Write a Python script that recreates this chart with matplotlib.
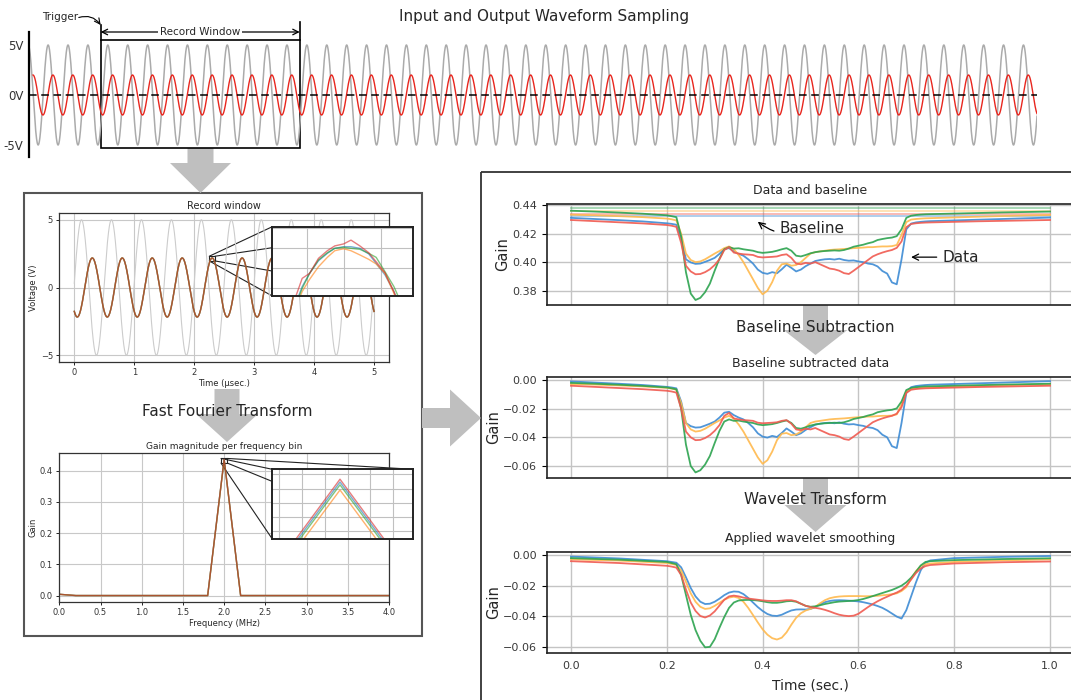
import numpy as np
import matplotlib
matplotlib.use('Agg')
import matplotlib.pyplot as plt
from matplotlib.patches import Rectangle, Polygon, ConnectionPatch
from matplotlib.ticker import MultipleLocator

W, H = 1071, 700

# ---------------- data ----------------
FREQ_MHZ = 2.0
INPUT_AMP = 5.0
OUTPUT_AMP_TOP = 2.0
OUTPUT_AMP_REC = 2.18
INPUT_PEAK_TOP = 0.18      # time of an input peak (usec)
INPUT_PEAK_REC = 0.12
OUTPUT_PEAK = 0.30
TOP_SPAN = (-1.8, 23.52)
OUTPUT_START_TOP = -1.70
RECORD_WINDOW = (0.0, 5.0)

SERIES = ['blue', 'orange', 'green', 'red']
TAB = {'blue': '#1f77b4', 'orange': '#ff7f0e', 'green': '#2ca02c', 'red': '#d62728'}
LIGHT = {'blue': '#3d8bd4', 'orange': '#ffb94d', 'green': '#2ca34f', 'red': '#f05a50'}

# readings of the zoomed peak in the record window
ZOOM_T = [2.266, 2.272, 2.277, 2.283, 2.289, 2.294, 2.300, 2.305, 2.311, 2.317, 2.322, 2.328, 2.334, 2.339]
ZOOM_V = {
    'blue':   [1.892, 2.009, 2.075, 2.138, 2.175, 2.200, 2.208, 2.208, 2.200, 2.172, 2.125, 2.067, 1.984, 1.884],
    'orange': [1.876, 1.984, 2.045, 2.108, 2.155, 2.188, 2.198, 2.188, 2.167, 2.145, 2.122, 2.075, 1.975, 1.876],
    'green':  [1.884, 2.000, 2.075, 2.142, 2.178, 2.200, 2.205, 2.200, 2.195, 2.175, 2.155, 2.083, 2.009, 1.925],
    'red':    [1.925, 2.050, 2.075, 2.150, 2.188, 2.212, 2.222, 2.241, 2.212, 2.178, 2.133, 2.078, 1.984, 1.892],
}
REC_ZOOM = (2.2518, 2.3471, 1.962, 2.308)

FFT_FREQ = [0.0, 0.2, 0.4, 0.6, 0.8, 1.0, 1.2, 1.4, 1.6, 1.8, 2.0,
            2.2, 2.4, 2.6, 2.8, 3.0, 3.2, 3.4, 3.6, 3.8, 4.0]
FFT_DC = 0.004
FFT_PEAK = {'blue': 0.4364, 'orange': 0.4347, 'green': 0.4358, 'red': 0.4370}
FFT_RECT = (1.962, 2.040, 0.4245, 0.4395)
FFT_ZOOM = (1.99107, 2.00967, 0.4243, 0.4391)

# gain vs time (sec.)
T_RAW = [0.00, 0.05, 0.10, 0.15, 0.20,
         0.21, 0.22, 0.23, 0.24, 0.25, 0.26, 0.27, 0.28, 0.29, 0.30,
         0.31, 0.32, 0.33, 0.34, 0.35, 0.36, 0.37, 0.38, 0.39, 0.40,
         0.41, 0.42, 0.43, 0.44, 0.45, 0.46, 0.47, 0.48, 0.49, 0.50,
         0.51, 0.52, 0.53, 0.54, 0.55, 0.56, 0.57, 0.58, 0.59, 0.60,
         0.61, 0.62, 0.63, 0.64, 0.65, 0.66, 0.67, 0.68, 0.69, 0.70,
         0.71, 0.72, 0.73, 0.74,
         0.75, 0.80, 0.85, 0.90, 0.95, 1.00]

BASELINE = {'blue': 0.4320, 'orange': 0.4360, 'green': 0.4380, 'red': 0.4335}

SUBTRACTED = {
    'blue': [-0.0010, -0.0018, -0.0026, -0.0035, -0.0048,
             -0.0052, -0.0058, -0.0150, -0.0300, -0.0322, -0.0332, -0.0330, -0.0318, -0.0305, -0.0290,
             -0.0262, -0.0228, -0.0222, -0.0245, -0.0262, -0.0275, -0.0300, -0.0330, -0.0372, -0.0395,
             -0.0402, -0.0390, -0.0398, -0.0370, -0.0338, -0.0360, -0.0385, -0.0372, -0.0348, -0.0330,
             -0.0312, -0.0305, -0.0300, -0.0298, -0.0302, -0.0296, -0.0305, -0.0310, -0.0308, -0.0315,
             -0.0320, -0.0330, -0.0335, -0.0350, -0.0382, -0.0400, -0.0462, -0.0475, -0.0300, -0.0090,
             -0.0050, -0.0042, -0.0038, -0.0035,
             -0.0033, -0.0028, -0.0023, -0.0018, -0.0013, -0.0008],
    'orange': [-0.0028, -0.0032, -0.0038, -0.0045, -0.0055,
               -0.0060, -0.0068, -0.0160, -0.0300, -0.0345, -0.0360, -0.0355, -0.0340, -0.0320, -0.0300,
               -0.0282, -0.0262, -0.0250, -0.0270, -0.0310, -0.0360, -0.0420, -0.0480, -0.0540, -0.0585,
               -0.0560, -0.0500, -0.0420, -0.0375, -0.0370, -0.0385, -0.0380, -0.0360, -0.0330, -0.0300,
               -0.0290, -0.0285, -0.0280, -0.0275, -0.0272, -0.0270, -0.0268, -0.0265, -0.0262, -0.0260,
               -0.0258, -0.0255, -0.0255, -0.0252, -0.0250, -0.0250, -0.0248, -0.0240, -0.0170, -0.0080,
               -0.0062, -0.0058, -0.0055, -0.0053,
               -0.0052, -0.0047, -0.0042, -0.0037, -0.0033, -0.0030],
    'green': [-0.0020, -0.0026, -0.0033, -0.0041, -0.0052,
              -0.0058, -0.0065, -0.0200, -0.0450, -0.0600, -0.0645, -0.0630, -0.0590, -0.0530, -0.0440,
              -0.0355, -0.0290, -0.0275, -0.0285, -0.0283, -0.0290, -0.0295, -0.0300, -0.0310, -0.0315,
              -0.0312, -0.0308, -0.0300, -0.0290, -0.0282, -0.0300, -0.0335, -0.0340, -0.0330, -0.0318,
              -0.0310, -0.0305, -0.0302, -0.0300, -0.0298, -0.0300, -0.0295, -0.0285, -0.0272, -0.0265,
              -0.0258, -0.0248, -0.0240, -0.0225, -0.0218, -0.0212, -0.0208, -0.0198, -0.0150, -0.0070,
              -0.0055, -0.0050, -0.0047, -0.0045,
              -0.0044, -0.0040, -0.0036, -0.0032, -0.0029, -0.0026],
    'red': [-0.0040, -0.0048, -0.0056, -0.0064, -0.0075,
            -0.0080, -0.0088, -0.0200, -0.0360, -0.0400, -0.0420, -0.0418, -0.0405, -0.0385, -0.0355,
            -0.0315, -0.0250, -0.0230, -0.0268, -0.0275, -0.0280, -0.0282, -0.0285, -0.0298, -0.0302,
            -0.0300, -0.0298, -0.0295, -0.0285, -0.0280, -0.0305, -0.0345, -0.0350, -0.0340, -0.0345,
            -0.0335, -0.0350, -0.0365, -0.0380, -0.0385, -0.0395, -0.0412, -0.0418, -0.0395, -0.0370,
            -0.0345, -0.0320, -0.0295, -0.0280, -0.0268, -0.0258, -0.0250, -0.0235, -0.0190, -0.0090,
            -0.0068, -0.0063, -0.0060, -0.0058,
            -0.0057, -0.0053, -0.0049, -0.0046, -0.0043, -0.0040],
}

T_SMOOTH = [0.00, 0.10, 0.20,
            0.21, 0.22, 0.23, 0.24, 0.25, 0.26, 0.27, 0.28, 0.29, 0.30,
            0.31, 0.32, 0.33, 0.34, 0.35, 0.36, 0.37, 0.38, 0.39, 0.40,
            0.41, 0.42, 0.43, 0.44, 0.45, 0.46, 0.47, 0.48, 0.49, 0.50,
            0.51, 0.52, 0.53, 0.54, 0.55, 0.56, 0.57, 0.58, 0.59, 0.60,
            0.61, 0.62, 0.63, 0.64, 0.65, 0.66, 0.67, 0.68, 0.69, 0.70,
            0.71, 0.72, 0.73, 0.74, 0.75,
            0.80, 0.90, 1.00]

SMOOTHED = {
    'blue': [-0.0010, -0.0022, -0.0040,
             -0.0045, -0.0050, -0.0080, -0.0145, -0.0215, -0.0270, -0.0305, -0.0320, -0.0318, -0.0305,
             -0.0285, -0.0262, -0.0245, -0.0238, -0.0240, -0.0255, -0.0280, -0.0310, -0.0340, -0.0365,
             -0.0385, -0.0396, -0.0398, -0.0390, -0.0375, -0.0362, -0.0356, -0.0355, -0.0356, -0.0352,
             -0.0340, -0.0322, -0.0308, -0.0300, -0.0296, -0.0295, -0.0296, -0.0298, -0.0300, -0.0303,
             -0.0308, -0.0315, -0.0323, -0.0333, -0.0345, -0.0362, -0.0382, -0.0402, -0.0415, -0.0360,
             -0.0270, -0.0180, -0.0100, -0.0050, -0.0035,
             -0.0020, -0.0012, -0.0006],
    'orange': [-0.0028, -0.0036, -0.0052,
               -0.0058, -0.0065, -0.0100, -0.0175, -0.0250, -0.0305, -0.0338, -0.0352, -0.0348, -0.0332,
               -0.0312, -0.0292, -0.0278, -0.0272, -0.0280, -0.0305, -0.0345, -0.0392, -0.0440, -0.0485,
               -0.0520, -0.0543, -0.0552, -0.0540, -0.0505, -0.0455, -0.0410, -0.0380, -0.0362, -0.0352,
               -0.0338, -0.0315, -0.0295, -0.0282, -0.0275, -0.0271, -0.0269, -0.0268, -0.0268, -0.0268,
               -0.0269, -0.0269, -0.0268, -0.0266, -0.0263, -0.0260, -0.0256, -0.0250, -0.0235, -0.0210,
               -0.0155, -0.0105, -0.0072, -0.0060, -0.0055,
               -0.0045, -0.0035, -0.0028],
    'green': [-0.0020, -0.0030, -0.0045,
              -0.0052, -0.0060, -0.0130, -0.0260, -0.0390, -0.0490, -0.0560, -0.0603, -0.0600, -0.0550,
              -0.0475, -0.0405, -0.0345, -0.0310, -0.0297, -0.0294, -0.0293, -0.0294, -0.0297, -0.0302,
              -0.0308, -0.0312, -0.0312, -0.0308, -0.0302, -0.0300, -0.0305, -0.0318, -0.0332, -0.0338,
              -0.0335, -0.0328, -0.0320, -0.0314, -0.0308, -0.0304, -0.0302, -0.0300, -0.0298, -0.0294,
              -0.0287, -0.0278, -0.0268, -0.0258, -0.0248, -0.0238, -0.0228, -0.0215, -0.0200, -0.0178,
              -0.0148, -0.0110, -0.0068, -0.0045, -0.0040,
              -0.0033, -0.0026, -0.0021],
    'red': [-0.0040, -0.0052, -0.0070,
            -0.0075, -0.0082, -0.0130, -0.0225, -0.0310, -0.0365, -0.0398, -0.0408, -0.0395, -0.0368,
            -0.0330, -0.0292, -0.0270, -0.0265, -0.0270, -0.0278, -0.0284, -0.0288, -0.0292, -0.0296,
            -0.0299, -0.0300, -0.0300, -0.0298, -0.0295, -0.0295, -0.0302, -0.0318, -0.0332, -0.0340,
            -0.0345, -0.0350, -0.0358, -0.0368, -0.0380, -0.0390, -0.0396, -0.0399, -0.0396, -0.0384,
            -0.0362, -0.0340, -0.0320, -0.0302, -0.0286, -0.0272, -0.0258, -0.0245, -0.0228, -0.0200,
            -0.0160, -0.0118, -0.0088, -0.0072, -0.0065,
            -0.0055, -0.0047, -0.0042],
}

# ---------------- figure ----------------
fig = plt.figure(figsize=(W / 100, H / 100), dpi=100)


def px_axes(x0, y0, x1, y1, **kw):
    return fig.add_axes([x0 / W, 1 - y1 / H, (x1 - x0) / W, (y1 - y0) / H], **kw)


ov = px_axes(0, 0, W, H, zorder=-1)
ov.set_xlim(0, W)
ov.set_ylim(H, 0)
ov.axis('off')

ARROW_C = '#bfbfbf'


def down_arrow(cx, y0, yh, ytip, sw, hw):
    pts = [(cx - sw / 2, y0), (cx + sw / 2, y0), (cx + sw / 2, yh), (cx + hw / 2, yh),
           (cx, ytip), (cx - hw / 2, yh), (cx - sw / 2, yh)]
    ov.add_patch(Polygon(pts, closed=True, fc=ARROW_C, ec='none'))


def right_arrow(cy, x0, xh, xtip, sw, hw):
    pts = [(x0, cy - sw / 2), (xh, cy - sw / 2), (xh, cy - hw / 2), (xtip, cy),
           (xh, cy + hw / 2), (xh, cy + sw / 2), (x0, cy + sw / 2)]
    ov.add_patch(Polygon(pts, closed=True, fc=ARROW_C, ec='none'))


ov.add_patch(Rectangle((24, 193), 398, 443, fill=False, ec='#555555', lw=1.5))
ov.add_patch(Rectangle((481, 172), 700, 600, fill=False, ec='#333333', lw=1.3))
down_arrow(200.5, 148, 163, 193, 26, 61)
down_arrow(227, 389, 414, 442, 25, 62)
down_arrow(815.5, 305, 330, 355, 25, 64)
down_arrow(815.5, 478, 505, 532, 25, 62)
right_arrow(418, 422, 450, 481, 20, 57)

TXT = '#262626'
ov.text(544, 17, 'Input and Output Waveform Sampling', ha='center', va='center', fontsize=11, color=TXT)
ov.text(227, 411, 'Fast Fourier Transform', ha='center', va='center', fontsize=11, color=TXT, zorder=5)
ov.text(815, 328, 'Baseline Subtraction', ha='center', va='center', fontsize=11, color=TXT, zorder=5)
ov.text(815, 500, 'Wavelet Transform', ha='center', va='center', fontsize=11, color=TXT, zorder=5)

# ---- top waveform ----
ax = px_axes(29, 32, 1037, 157)
ax.patch.set_visible(False)
t = np.linspace(TOP_SPAN[0], TOP_SPAN[1], 6000)
ax.plot(t, INPUT_AMP * np.cos(2 * np.pi * FREQ_MHZ * (t - INPUT_PEAK_TOP)), color='#ababab', lw=1.1)
tr = t[t >= OUTPUT_START_TOP]
ax.plot(tr, OUTPUT_AMP_TOP * np.cos(2 * np.pi * FREQ_MHZ * (tr - OUTPUT_PEAK)), color='#e8261e', lw=1.0)
ax.axhline(0, color='k', ls=(0, (5, 3)), lw=1.1)
ax.set_xlim(*TOP_SPAN)
ax.set_ylim(-6.2, 6.3)
for s in ['top', 'right', 'bottom']:
    ax.spines[s].set_visible(False)
ax.spines['left'].set_linewidth(1.6)
ax.set_xticks([])
ax.set_yticks([5, 0, -5])
ax.set_yticklabels(['5V', '0V', '-5V'])
ax.tick_params(axis='y', length=0, labelsize=8.5, pad=4, labelcolor='#333333')
w0, w1 = RECORD_WINDOW
ax.add_patch(Rectangle((w0, -5.3), w1 - w0, 10.8, fill=False, ec='k', lw=1.2, clip_on=False))
ax.plot([w0, w0], [5.5, 7.0], color='k', lw=1.2, clip_on=False)
ax.plot([w1, w1], [5.5, 7.3], color='k', lw=1.2, clip_on=False)
ax.annotate('', xy=(w0, 6.3), xytext=(w1, 6.3), annotation_clip=False,
            arrowprops=dict(arrowstyle='<->', lw=0.9, color='k', shrinkA=0, shrinkB=0))
ax.text((w0 + w1) / 2, 6.3, 'Record Window', ha='center', va='center', fontsize=7.5, color=TXT,
        bbox=dict(fc='white', ec='none', pad=1.5), clip_on=False)
ax.text(-1.03, 7.75, 'Trigger', ha='center', va='center', fontsize=7.5, color=TXT, clip_on=False)
ax.annotate('', xy=(w0, 7.0), xytext=(-0.55, 7.75), annotation_clip=False,
            arrowprops=dict(arrowstyle='->', lw=0.8, color='k', shrinkA=0, shrinkB=0,
                            connectionstyle='arc3,rad=-0.35'))


def style_small(a):
    for s in a.spines.values():
        s.set_color('#333333')
        s.set_linewidth(0.9)
    a.grid(True, color='#c8c8c8', lw=0.8)
    a.set_axisbelow(True)
    a.tick_params(labelsize=6, length=2.5, width=0.6, pad=2, labelcolor='#333333')


def style_inset(a):
    a.tick_params(labelleft=False, labelbottom=False, length=0)
    a.grid(True, color='#c0c0c0', lw=0.8)
    for s in a.spines.values():
        s.set_color('#222222')
        s.set_linewidth(1.4)


def connect(main, inset, rect):
    x0, x1, y0, y1 = rect
    main.add_patch(Rectangle((x0, y0), x1 - x0, y1 - y0, fill=False, ec='#222222', lw=0.8))
    for (x, y), (u, v) in [((x0, y0), (0, 0)), ((x0, y1), (0, 1)), ((x1, y0), (1, 0)), ((x1, y1), (1, 1))]:
        con = ConnectionPatch(xyA=(x, y), coordsA=main.transData, xyB=(u, v), coordsB=inset.transAxes,
                              color='#222222', lw=0.8)
        con.set_clip_on(False)
        main.add_artist(con)


# ---- record window ----
ar = px_axes(59.3, 213, 389, 362)
tt = np.linspace(RECORD_WINDOW[0], RECORD_WINDOW[1], 2000)
ar.plot(tt, INPUT_AMP * np.cos(2 * np.pi * FREQ_MHZ * (tt - INPUT_PEAK_REC)), color='#cccccc', lw=0.8)
for k in SERIES:
    ar.plot(tt, OUTPUT_AMP_REC * np.cos(2 * np.pi * FREQ_MHZ * (tt - OUTPUT_PEAK)), color=TAB[k], alpha=0.6, lw=1.0)
ar.set_xlim(-0.25, 5.25)
ar.set_ylim(-5.5, 5.5)
ar.set_xticks([0, 1, 2, 3, 4, 5])
ar.set_yticks([-5, 0, 5])
style_small(ar)
ar.set_title('Record window', fontsize=7, pad=3, color=TXT)
ar.set_xlabel('Time (µsec.)', fontsize=6, labelpad=1.5, color=TXT)
ar.set_ylabel('Voltage (V)', fontsize=6, labelpad=2, color=TXT)

ari = px_axes(272.3, 226.7, 413.3, 296, zorder=5)
for k in SERIES:
    ari.plot(ZOOM_T, ZOOM_V[k], color=TAB[k], alpha=0.6, lw=1.0)
ari.set_xlim(REC_ZOOM[0], REC_ZOOM[1])
ari.set_ylim(REC_ZOOM[2], REC_ZOOM[3])
ari.xaxis.set_major_locator(MultipleLocator(0.025))
ari.yaxis.set_major_locator(MultipleLocator(0.1))
style_inset(ari)
connect(ar, ari, REC_ZOOM)

# ---- FFT ----
af = px_axes(59.3, 453, 389, 602)
fft_gain = {k: [FFT_DC if f == 0 else (FFT_PEAK[k] if abs(f - 2.0) < 1e-9 else 0.0) for f in FFT_FREQ]
            for k in SERIES}
for k in SERIES:
    af.plot(FFT_FREQ, fft_gain[k], color=TAB[k], alpha=0.6, lw=1.0)
af.set_xlim(0, 4)
af.set_ylim(-0.0207, 0.457)
af.set_xticks(np.arange(0, 4.01, 0.5))
af.set_yticks([0.0, 0.1, 0.2, 0.3, 0.4])
style_small(af)
af.set_title('Gain magnitude per frequency bin', fontsize=6.5, pad=3, color=TXT)
af.set_xlabel('Frequency (MHz)', fontsize=6, labelpad=1.5, color=TXT)
af.set_ylabel('Gain', fontsize=6, labelpad=2, color=TXT)

afi = px_axes(272.3, 469.3, 413.3, 539, zorder=5)
for k in SERIES:
    afi.plot(FFT_FREQ, fft_gain[k], color=TAB[k], alpha=0.6, lw=1.0)
afi.set_xlim(FFT_ZOOM[0], FFT_ZOOM[1])
afi.set_ylim(FFT_ZOOM[2], FFT_ZOOM[3])
afi.xaxis.set_major_locator(MultipleLocator(0.003))
afi.yaxis.set_major_locator(MultipleLocator(0.003))
style_inset(afi)
connect(af, afi, FFT_RECT)


# ---- right column ----
def style_right(a, ylim, yticks):
    a.set_xlim(-0.05, 1.05)
    a.set_ylim(*ylim)
    a.set_yticks(yticks)
    a.set_xticks([0.0, 0.2, 0.4, 0.6, 0.8, 1.0])
    a.grid(True, color='#c4c4c4', lw=1.0)
    a.set_axisbelow(True)
    for s in a.spines.values():
        s.set_color('#222222')
        s.set_linewidth(1.2)
    a.tick_params(labelsize=8, length=3.5, width=0.8, labelcolor='#3a3a3a')
    a.set_ylabel('Gain', fontsize=10.5, color=TXT, labelpad=1.5)


p1 = px_axes(547, 204, 1074, 305)
for k in SERIES:
    p1.plot([0, 1], [BASELINE[k], BASELINE[k]], color=LIGHT[k], alpha=0.45, lw=1.3)
for k in SERIES:
    p1.plot(T_RAW, np.array(SUBTRACTED[k]) + BASELINE[k], color=LIGHT[k], alpha=0.9, lw=1.3)
style_right(p1, (0.370, 0.4407), [0.38, 0.40, 0.42, 0.44])
p1.tick_params(axis='x', bottom=False, labelbottom=False)
p1.set_title('Data and baseline', fontsize=9, pad=7, color=TXT)
p1.annotate('Baseline', xy=(0.39, 0.4283), xytext=(0.435, 0.4232), fontsize=11, va='center', ha='left',
            color=TXT, arrowprops=dict(arrowstyle='->', lw=0.9, color='k', shrinkA=2, shrinkB=0,
                                       connectionstyle='arc3,rad=-0.3'))
p1.annotate('Data', xy=(0.71, 0.4035), xytext=(0.775, 0.4035), fontsize=11, va='center', ha='left',
            color=TXT, arrowprops=dict(arrowstyle='->', lw=0.9, color='k', shrinkA=2, shrinkB=0))

p2 = px_axes(547, 377, 1074, 478)
for k in SERIES:
    p2.plot(T_RAW, SUBTRACTED[k], color=LIGHT[k], alpha=0.9, lw=1.3)
style_right(p2, (-0.0684, 0.0021), [-0.06, -0.04, -0.02, 0.00])
p2.tick_params(axis='x', bottom=False, labelbottom=False)
p2.set_title('Baseline subtracted data', fontsize=9, pad=7, color=TXT)

p3 = px_axes(547, 552, 1074, 653)
for k in SERIES:
    p3.plot(T_SMOOTH, SMOOTHED[k], color=LIGHT[k], alpha=0.9, lw=1.3)
style_right(p3, (-0.064, 0.002), [-0.06, -0.04, -0.02, 0.00])
p3.tick_params(axis='x', length=0, pad=6)
p3.set_title('Applied wavelet smoothing', fontsize=9, pad=7, color=TXT)
p3.set_xlabel('Time (sec.)', fontsize=10, color=TXT, labelpad=5)

fig.savefig('out.png', dpi=100, facecolor='white')
